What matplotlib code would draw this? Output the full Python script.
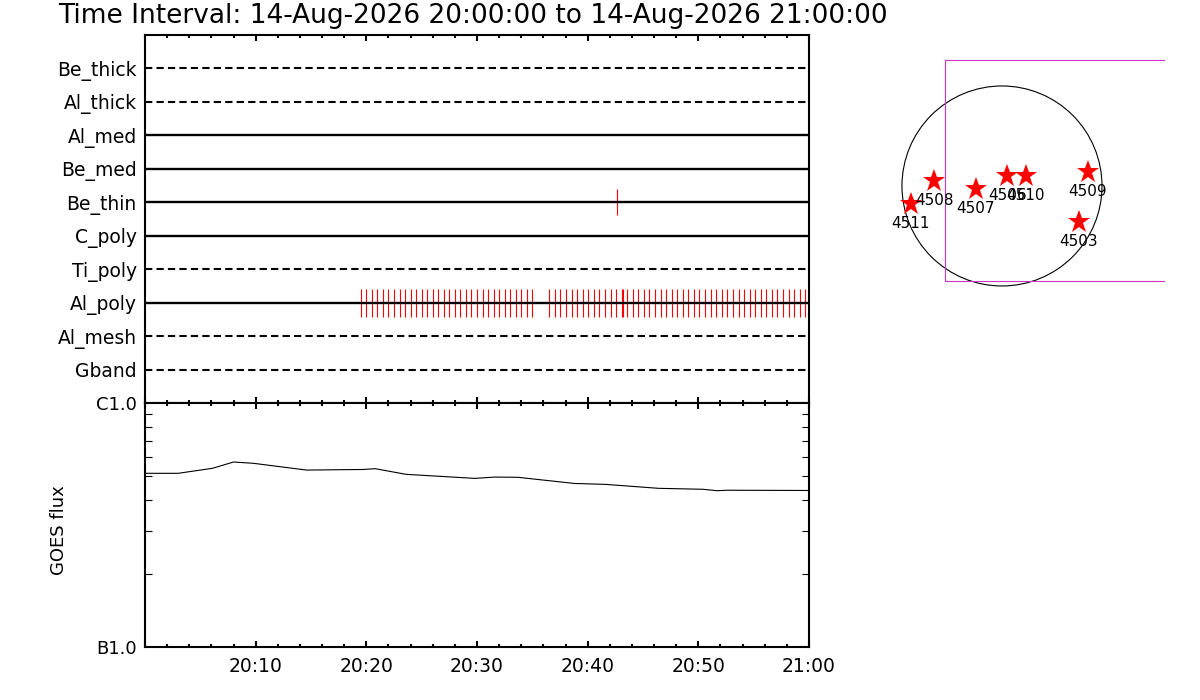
import matplotlib
matplotlib.use('Agg')
from matplotlib import pyplot as plt
from matplotlib.patches import Circle, Rectangle
from matplotlib.ticker import FixedLocator, NullFormatter

date_str = '14-Aug-2026'
t_start = '20:00:00'
t_end = '21:00:00'

# filter rows, top to bottom; dashed = no data for that filter
filters = ['Be_thick', 'Al_thick', 'Al_med', 'Be_med', 'Be_thin',
           'C_poly', 'Ti_poly', 'Al_poly', 'Al_mesh', 'Gband']
filter_dashed = [True, True, False, False, False, False, True, False, True, True]

# image times per filter
be_thin_times = ['20:42:40']
al_poly_times = ['20:19:30', '20:20:00', '20:20:30', '20:21:00', '20:21:30', '20:22:00',
                 '20:22:30', '20:23:00', '20:23:30', '20:24:00', '20:24:30', '20:25:00',
                 '20:25:30', '20:26:00', '20:26:30', '20:27:00', '20:27:30', '20:28:00',
                 '20:28:30', '20:29:00', '20:29:30', '20:30:00', '20:30:30', '20:31:00',
                 '20:31:30', '20:32:00', '20:32:30', '20:33:00', '20:33:30', '20:34:00',
                 '20:34:30', '20:35:00',
                 '20:36:32', '20:37:02', '20:37:32', '20:38:02', '20:38:33', '20:39:03',
                 '20:39:33', '20:40:03', '20:40:33', '20:41:03', '20:41:34', '20:42:04',
                 '20:42:34', '20:43:04', '20:43:12', '20:43:34', '20:44:04', '20:44:35',
                 '20:45:05', '20:45:35', '20:46:05', '20:46:35', '20:47:05', '20:47:35',
                 '20:48:06', '20:48:36', '20:49:06', '20:49:36', '20:50:06', '20:50:37',
                 '20:51:07', '20:51:37', '20:52:07', '20:52:37', '20:53:07', '20:53:38',
                 '20:54:08', '20:54:38', '20:55:08', '20:55:38', '20:56:08', '20:56:39',
                 '20:57:09', '20:57:39', '20:58:09', '20:58:39', '20:59:09', '20:59:40']

# GOES long channel (minutes after 20:00, W/m^2)
goes_min = [0, 3.0, 6.1, 8.0, 9.8, 14.6, 19.7, 20.8, 23.6, 29.8, 31.6, 33.7,
            38.8, 41.6, 46.4, 50.4, 51.7, 52.6, 60]
goes_flux = [5.15e-6, 5.15e-6, 5.40e-6, 5.73e-6, 5.66e-6, 5.31e-6, 5.34e-6, 5.38e-6,
             5.10e-6, 4.91e-6, 4.97e-6, 4.96e-6, 4.68e-6, 4.64e-6, 4.47e-6, 4.43e-6,
             4.37e-6, 4.39e-6, 4.38e-6]

# active regions (arcsec)
ar_nums = ['4511', '4508', '4507', '4506', '4510', '4509', '4503']
ar_x = [-865, -643, -247, 50, 225, 814, 729]
ar_y = [-174, 48, -31, 95, 95, 133, -339]

sun_radius = 950
fov_xcen, fov_ycen = 510, 150
fov_size = 2100

major_min = [0, 10, 20, 30, 40, 50, 60]
major_lab = ['', '20:10', '20:20', '20:30', '20:40', '20:50', '21:00']
minor_min = list(range(0, 61, 2))


def to_min(s):
    h, m, sec = (int(v) for v in s.split(':'))
    h0, m0, s0 = (int(v) for v in t_start.split(':'))
    return (h - h0) * 60 + (m - m0) + (sec - s0) / 60.0


def style_time_axis(ax):
    ax.set_xlim(0, to_min(t_end))
    ax.xaxis.set_major_locator(FixedLocator(major_min))
    ax.xaxis.set_minor_locator(FixedLocator(minor_min))
    ax.tick_params(axis='x', which='both', direction='in', top=True, bottom=True, width=1.5)
    ax.tick_params(axis='x', which='major', length=4.5)
    ax.tick_params(axis='x', which='minor', length=2.2)
    for sp in ax.spines.values():
        sp.set_linewidth(1.5)


fig = plt.figure(figsize=(12, 7), dpi=100)

fig.text(58 / 1200, 1 - 16 / 700,
         'Time Interval: %s %s to %s %s' % (date_str, t_start, date_str, t_end),
         fontsize=19, ha='left', va='center')

# filter timeline
ax1 = fig.add_axes([0.1208, 0.4243, 0.5534, 0.5257])
style_time_axis(ax1)
ax1.set_ylim(len(filters) + 1, 0)
rows = list(range(1, len(filters) + 1))
for r, name, dashed in zip(rows, filters, filter_dashed):
    if dashed:
        ax1.plot([0, 60], [r, r], color='black', lw=1.5, linestyle=(0, (3.5, 2)), zorder=3)
    else:
        ax1.plot([0, 60], [r, r], color='black', lw=1.7, zorder=3)

r_thin = rows[filters.index('Be_thin')]
ax1.vlines([to_min(t) for t in be_thin_times], r_thin - 0.39, r_thin + 0.39,
           color='red', lw=0.8, zorder=2)
r_poly = rows[filters.index('Al_poly')]
ax1.vlines([to_min(t) for t in al_poly_times], r_poly - 0.42, r_poly + 0.42,
           color='red', lw=0.8, zorder=2)

ax1.set_yticks(rows)
ax1.set_yticklabels(filters)
ax1.tick_params(axis='y', length=0, pad=6, labelsize=13.5)
ax1.tick_params(axis='x', labelbottom=False)

# GOES flux
ax2 = fig.add_axes([0.1208, 0.0757, 0.5534, 0.3486])
style_time_axis(ax2)
ax2.plot(goes_min, goes_flux, color='black', lw=0.8)
ax2.set_yscale('log')
ax2.set_ylim(1e-6, 1e-5)
ax2.yaxis.set_major_locator(FixedLocator([1e-6, 1e-5]))
ax2.set_yticklabels(['B1.0', 'C1.0'])
ax2.yaxis.set_minor_locator(FixedLocator([k * 1e-6 for k in range(2, 10)]))
ax2.yaxis.set_minor_formatter(NullFormatter())
ax2.tick_params(axis='y', which='both', direction='in', left=True, right=True, labelsize=13)
ax2.tick_params(axis='y', which='major', length=0, pad=6)
ax2.tick_params(axis='y', which='minor', length=5, width=0.8)
ax2.set_xticklabels(major_lab)
ax2.tick_params(axis='x', labelsize=13.5, pad=7)
ax2.set_ylabel('GOES flux', fontsize=13)
ax2.yaxis.set_label_coords(-0.116, 0.48)

# solar disk map
ax3 = fig.add_axes([0.7333, 0.5286, 0.2375, 0.4143])
ax3.set_xlim(-1159, 1548)
ax3.set_ylim(-1368, 1387)
ax3.axis('off')
ax3.add_patch(Circle((0, 0), sun_radius, fill=False, color='black', lw=0.8))
ax3.add_patch(Rectangle((fov_xcen - fov_size / 2, fov_ycen - fov_size / 2), fov_size, fov_size,
                        fill=False, edgecolor='#cc33cc', lw=0.8))
ax3.plot(ar_x, ar_y, linestyle='none', marker='*', color='red', markersize=17,
         markeredgewidth=0, clip_on=False)
for num, x, y in zip(ar_nums, ar_x, ar_y):
    ax3.annotate(num, (x, y), xytext=(0, -14), textcoords='offset points',
                 ha='center', va='center', fontsize=11)

fig.savefig('out.png', dpi=100)
